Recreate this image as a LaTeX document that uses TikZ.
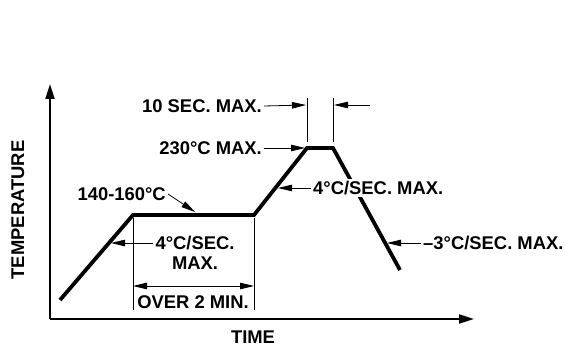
\documentclass[tikz,border=0pt]{standalone}
\usepackage{fontspec}
\setmainfont{Liberation Sans}
\usetikzlibrary{arrows.meta}

\tikzset{
  lbl/.style={font=\fontsize{18.4}{20}\selectfont\bfseries, inner sep=2pt},
  arr/.style={-{Triangle[length=14pt,width=6.5pt]}, line width=0.8pt},
  axis/.style={-{Triangle[length=15pt,width=9pt]}, line width=2pt},
  thin/.style={line width=0.8pt}
}

\begin{document}
\begin{tikzpicture}[x=1pt, y=-1pt]
\useasboundingbox (0,0) rectangle (565,347);

% axes
\coordinate (origin) at (50,319);
\coordinate (ytop) at (50,84);
\coordinate (xend) at (474,319);
\draw[axis] (origin) -- (ytop);
\draw[axis] (origin) -- (xend);
\node[lbl, rotate=90] (temp) at (18,210) {TEMPERATURE};
\node[lbl] (time) at (253,337) {TIME};

% profile
\coordinate (p0) at (60,300);
\coordinate (p1) at (133,215);
\coordinate (p2) at (254,215);
\coordinate (p3) at (307,148);
\coordinate (p4) at (333,148);
\coordinate (p5) at (400,270);
\draw[line width=3.8pt, line join=miter] (p0) -- (p1) -- (p2) -- (p3) -- (p4) -- (p5);

% soak time
\draw[thin] (133,218) -- (133,310);
\draw[thin] (254,218) -- (254,310);
\coordinate (soakL) at (133,286);
\coordinate (soakR) at (254,286);
\draw[arr, {Triangle[length=14pt,width=6.5pt]}-{Triangle[length=14pt,width=6.5pt]}] (soakL) -- (soakR);
\node[lbl] (over) at (193,302) {OVER 2 MIN.};

% ramp up
\node[lbl] (rateA) at (195,243) {4°C/SEC.};
\node[lbl] (rateAmax) at (195,263) {MAX.};
\coordinate (cA) at (111,243);
\draw[arr] (rateA.west) -- (cA);

\node[lbl, anchor=east] (soak) at (168,194) {140-160°C};
\coordinate (cSoak) at (195,212);
\draw[arr] (soak.east) -- (cSoak);

% peak
\draw[thin] (307,98) -- (307,142);
\draw[thin] (333,98) -- (333,142);
\node[lbl, anchor=east] (tenSec) at (264,106) {10 SEC. MAX.};
\coordinate (cTenL) at (306,105);
\coordinate (cTenR) at (334,105);
\coordinate (cTenE) at (370,105);
\draw[arr] (tenSec.east) -- (cTenL);
\draw[arr] (cTenE) -- (cTenR);

\node[lbl, anchor=east] (peak) at (264,148) {230°C MAX.};
\coordinate (cPeak) at (305,148);
\draw[arr] (peak.east) -- (cPeak);

\node[lbl, anchor=west, fill=white] (rateB) at (311,188) {4°C/SEC. MAX.};
\coordinate (cB) at (278,188);
\draw[arr] (rateB.west) -- (cB);

% cool down
\node[lbl, anchor=west] (rateC) at (421,243) {–3°C/SEC. MAX.};
\coordinate (cC) at (387,243);
\draw[arr] (rateC.west) -- (cC);
\end{tikzpicture}
\end{document}
